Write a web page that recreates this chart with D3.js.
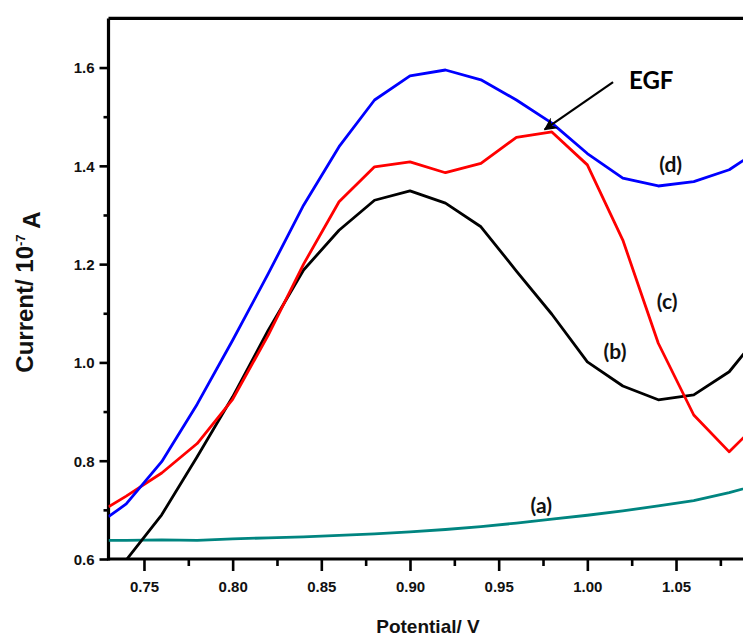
<!DOCTYPE html>
<html><head><meta charset="utf-8">
<script src="https://cdn.jsdelivr.net/npm/d3@7"></script>
<style>
html,body{margin:0;padding:0;background:#fff;}
svg{display:block;}
</style></head>
<body>
<svg id="chart" width="743" height="636"></svg>
<script>
const potential = [0.73,0.74,0.76,0.78,0.80,0.82,0.84,0.86,0.88,0.90,0.92,0.94,0.96,0.98,1.00,1.02,1.04,1.06,1.08,1.10];
const curveA = [0.638,0.638,0.639,0.638,0.641,0.643,0.645,0.648,0.651,0.655,0.660,0.666,0.673,0.681,0.689,0.698,0.708,0.719,0.735,0.755];
const curveB = [0.560,0.598,0.690,0.808,0.930,1.065,1.188,1.269,1.330,1.349,1.324,1.276,1.186,1.098,1.001,0.952,0.924,0.934,0.981,1.070];
const curveC = [0.706,0.728,0.775,0.835,0.925,1.055,1.200,1.327,1.398,1.408,1.386,1.405,1.458,1.469,1.402,1.249,1.039,0.893,0.818,0.890];
const curveD = [0.686,0.712,0.798,0.915,1.045,1.180,1.320,1.439,1.534,1.583,1.595,1.575,1.534,1.487,1.425,1.375,1.359,1.368,1.392,1.440];
const seriesNames = ["(a)","(b)","(c)","(d)"];
const seriesColors = ["#008580","#000000","#ff0000","#0000ff"];
const xMajorTicks = [0.75,0.80,0.85,0.90,0.95,1.00,1.05];
const xMinorTicks = [0.775,0.825,0.875,0.925,0.975,1.025,1.075];
const yMajorTicks = [0.6,0.8,1.0,1.2,1.4,1.6];
const yMinorTicks = [0.7,0.9,1.1,1.3,1.5];
const labelPos = [[0.974,0.71],[1.0156,1.025],[1.045,1.127],[1.047,1.404]];
const egfText = "EGF";
const egfTextPos = [1.036,1.557];
const egfArrowFrom = [1.0145,1.5705];
const egfArrowTo = [0.976,1.474];

const svg = d3.select("#chart");
const x = d3.scaleLinear().domain([0.73,1.13]).range([108.5,817.9]);
const y = d3.scaleLinear().domain([0.6,1.7]).range([559,18.4]);

const defs = svg.append("defs");
defs.append("clipPath").attr("id","plotclip").append("rect")
  .attr("x",x(0.73)).attr("y",y(1.7)).attr("width",x(1.13)-x(0.73)).attr("height",y(0.6)-y(1.7));
const mk = defs.append("marker").attr("id","arrow").attr("viewBox","0 0 10 10")
  .attr("refX",9).attr("refY",5).attr("markerWidth",13).attr("markerHeight",13)
  .attr("markerUnits","userSpaceOnUse").attr("orient","auto");
mk.append("path").attr("d","M0,0 L10,5 L0,10 L3,5 Z").attr("fill","#000");

const tickFont = "'Liberation Sans', Arial, sans-serif";

// axes
const xAxis = svg.append("g").attr("transform",`translate(0,${y(0.6)})`)
  .call(d3.axisBottom(x).tickValues(xMajorTicks).tickSize(12).tickPadding(7).tickFormat(d3.format(".2f")));
const xMinor = svg.append("g").attr("transform",`translate(0,${y(0.6)})`)
  .call(d3.axisBottom(x).tickValues(xMinorTicks).tickSize(7).tickFormat(""));
const yAxis = svg.append("g").attr("transform",`translate(${x(0.73)},0)`)
  .call(d3.axisLeft(y).tickValues(yMajorTicks).tickSize(9).tickPadding(5).tickFormat(d3.format(".1f")));
const yMinor = svg.append("g").attr("transform",`translate(${x(0.73)},0)`)
  .call(d3.axisLeft(y).tickValues(yMinorTicks).tickSize(5).tickFormat(""));
[xAxis,xMinor,yAxis,yMinor].forEach(g=>{
  g.select(".domain").remove();
  g.selectAll(".tick line").attr("stroke","#000").attr("stroke-width",2.6);
  g.selectAll("text").attr("fill","#111").style("font-family",tickFont).style("font-size","15px").style("font-weight","bold");
});
xAxis.selectAll("text").attr("dy","0.95em");
yAxis.selectAll("text").attr("dy","0.36em");

// frame
svg.append("line").attr("x1",x(0.73)).attr("x2",743).attr("y1",y(0.6)).attr("y2",y(0.6)).attr("stroke","#000").attr("stroke-width",3.2);
svg.append("line").attr("x1",x(0.73)).attr("x2",x(0.73)).attr("y1",y(0.6)+1.6).attr("y2",y(1.7)).attr("stroke","#000").attr("stroke-width",3.2);
svg.append("line").attr("x1",x(0.73)).attr("x2",743).attr("y1",y(1.7)).attr("y2",y(1.7)).attr("stroke","#000").attr("stroke-width",3.2);

// curves
const seriesData = [curveA,curveB,curveC,curveD];
const line = d3.line().x((d,i)=>x(potential[i])).y(d=>y(d));
const plot = svg.append("g").attr("clip-path","url(#plotclip)");
seriesData.forEach((vals,k)=>{
  plot.append("path").datum(vals).attr("d",line)
    .attr("fill","none").attr("stroke",seriesColors[k]).attr("stroke-width",2.8)
    .attr("stroke-linejoin","round");
});

// labels
const labFont = "Lato, 'Open Sans', sans-serif";
seriesNames.forEach((n,k)=>{
  svg.append("text").attr("x",x(labelPos[k][0])).attr("y",y(labelPos[k][1]))
    .attr("text-anchor","middle").attr("dominant-baseline","central")
    .style("font-family",labFont).style("font-weight","bold").style("font-size","21px")
    .attr("fill","#111").text(n);
});
svg.append("text").attr("x",x(egfTextPos[0])).attr("y",y(egfTextPos[1]))
  .attr("text-anchor","middle")
  .style("font-family",labFont).style("font-weight","bold").style("font-size","24px")
  .attr("fill","#000").text(egfText);
svg.append("line").attr("x1",x(egfArrowFrom[0])).attr("y1",y(egfArrowFrom[1]))
  .attr("x2",x(egfArrowTo[0])).attr("y2",y(egfArrowTo[1]))
  .attr("stroke","#000").attr("stroke-width",2.2).attr("marker-end","url(#arrow)");

// axis titles
svg.append("text").attr("x",428).attr("y",633).attr("text-anchor","middle")
  .style("font-family",tickFont).style("font-weight","bold").style("font-size","19px")
  .attr("fill","#111").text("Potential/ V");
const yt = svg.append("text").attr("transform","translate(33,292) rotate(-90)").attr("text-anchor","middle")
  .style("font-family",tickFont).style("font-weight","bold").style("font-size","24px").attr("fill","#111");
yt.append("tspan").text("Current/ 10");
yt.append("tspan").attr("dy","-0.6em").style("font-size","13px").text("-7");
yt.append("tspan").attr("dy","0.6em").text(" A");
</script>
</body></html>
